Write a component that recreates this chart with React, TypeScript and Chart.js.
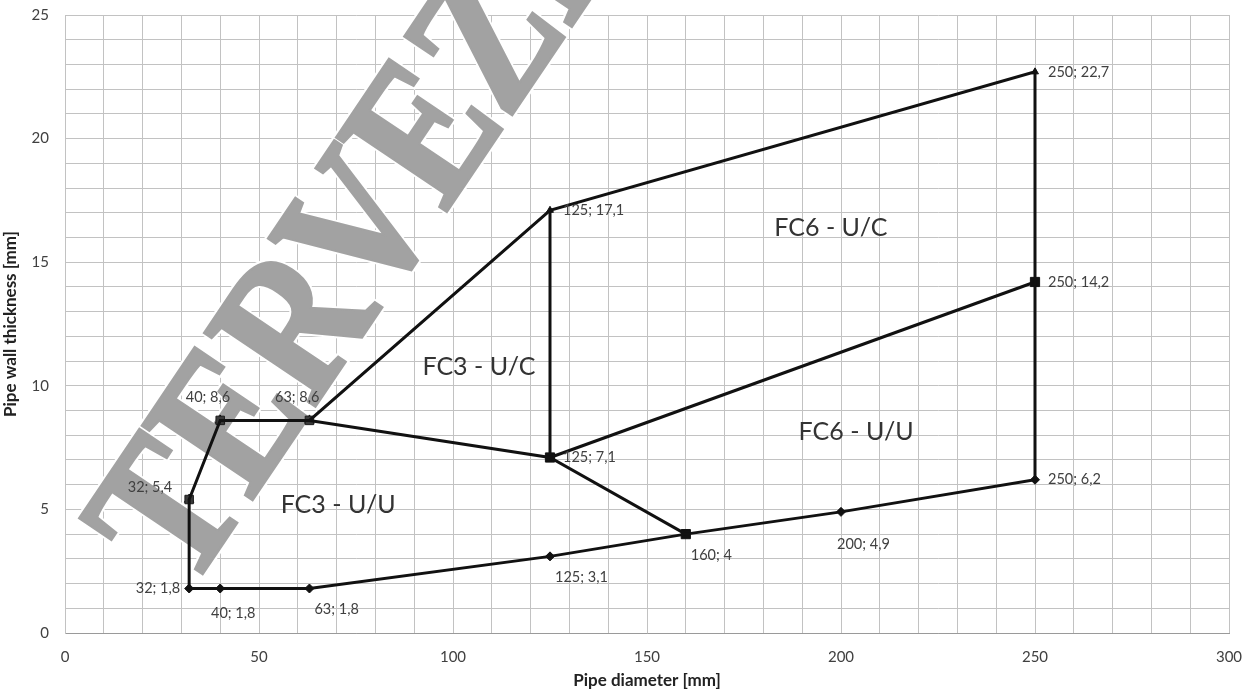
import React, { useEffect, useRef } from "react";
import { Chart, registerables } from "chart.js";

Chart.register(...registerables);

// Outer boundary of the regions (closed outline)
const outlineX = [32, 40, 63, 125, 160, 200, 250, 250, 250, 125, 63, 40, 32, 32];
const outlineY = [1.8, 1.8, 1.8, 3.1, 4, 4.9, 6.2, 14.2, 22.7, 17.1, 8.6, 8.6, 5.4, 1.8];

// Inner dividing lines
const innerAX = [63, 125, 160];
const innerAY = [8.6, 7.1, 4];
const innerBX = [125, 125];
const innerBY = [7.1, 17.1];
const innerCX = [125, 250];
const innerCY = [7.1, 14.2];

// Markers
const diamondX = [32, 40, 63, 125, 200, 250];
const diamondY = [1.8, 1.8, 1.8, 3.1, 4.9, 6.2];
const squareX = [125, 160, 250];
const squareY = [7.1, 4, 14.2];
const triangleX = [32, 40, 63];
const triangleY = [5.4, 8.6, 8.6];
const smallTriX = [125, 250];
const smallTriY = [17.1, 22.7];

// Point labels (x; y) and their placement
const labelX = [32, 40, 63, 125, 160, 200, 250, 250, 250, 125, 125, 63, 40, 32];
const labelY = [1.8, 1.8, 1.8, 3.1, 4, 4.9, 6.2, 14.2, 22.7, 17.1, 7.1, 8.6, 8.6, 5.4];
const labelPlace = ["left", "belowR", "belowR2", "belowR2", "belowR2", "below", "right", "right", "right", "right", "right", "aboveL", "aboveL", "leftAbove"];

// Region texts
const regionText = ["FC6 - U/C", "FC3 - U/C", "FC6 - U/U", "FC3 - U/U"];
const regionX = [197.4, 106.7, 203.9, 70.4];
const regionY = [16.4, 10.76, 8.13, 5.18];

const xTitle = "Pipe diameter [mm]";
const yTitle = "Pipe wall thickness [mm]";
const watermark = "TERVEZET";

const pts = (xs: number[], ys: number[]) => xs.map((x, i) => ({ x, y: ys[i] }));

const fmt = (v: number) => String(v).replace(".", ",");

const FONT = "Lato, 'Open Sans', sans-serif";

export default function App() {
  const ref = useRef<HTMLCanvasElement | null>(null);

  useEffect(() => {
    document.body.style.margin = "0";
    const canvas = ref.current;
    if (!canvas) return;

    const watermarkPlugin = {
      id: "watermark",
      beforeDatasetsDraw(chart: any) {
        const ctx = chart.ctx;
        ctx.save();
        ctx.translate(188, 594);
        ctx.rotate((-56 * Math.PI) / 180);
        ctx.scale(0.9, 1.08);
        ctx.font = "bold 186px 'Liberation Serif', 'DejaVu Serif', serif";
        ctx.textBaseline = "alphabetic";
        ctx.textAlign = "left";
        ctx.lineJoin = "miter";
        ctx.strokeStyle = "#ffffff";
        ctx.lineWidth = 8;
        ctx.strokeText(watermark, 0, 0);
        ctx.strokeStyle = "#a2a2a2";
        ctx.lineWidth = 4;
        ctx.strokeText(watermark, 0, 0);
        ctx.fillStyle = "#a2a2a2";
        ctx.fillText(watermark, 0, 0);
        ctx.restore();
      },
    };

    const labelsPlugin = {
      id: "pointLabels",
      afterDatasetsDraw(chart: any) {
        const ctx = chart.ctx;
        const xs = chart.scales.x;
        const ys = chart.scales.y;
        ctx.save();
        ctx.font = `14.5px ${FONT}`;
        ctx.fillStyle = "#404040";
        labelX.forEach((lx, i) => {
          const px = xs.getPixelForValue(lx);
          const py = ys.getPixelForValue(labelY[i]);
          const text = `${fmt(lx)}; ${fmt(labelY[i])}`;
          const place = labelPlace[i];
          let tx = px, ty = py;
          ctx.textBaseline = "middle";
          if (place === "left") { ctx.textAlign = "right"; tx = px - 9; }
          else if (place === "right") { ctx.textAlign = "left"; tx = px + 13; }
          else if (place === "belowR") { ctx.textAlign = "center"; tx = px + 13; ty = py + 25; }
          else if (place === "belowR2") { ctx.textAlign = "left"; tx = px + 5; ty = py + 21; }
          else if (place === "below") { ctx.textAlign = "left"; tx = px - 4; ty = py + 32; }
          else if (place === "aboveL") { ctx.textAlign = "right"; tx = px + 10; ty = py - 23; }
          else if (place === "leftAbove") { ctx.textAlign = "right"; tx = px - 17; ty = py - 12; }
          ctx.fillText(text, tx, ty);
        });
        ctx.font = `25px ${FONT}`;
        ctx.fillStyle = "#333333";
        ctx.textAlign = "center";
        ctx.textBaseline = "middle";
        regionText.forEach((t, i) => {
          ctx.fillText(t, xs.getPixelForValue(regionX[i]), ys.getPixelForValue(regionY[i]));
        });
        ctx.restore();
      },
    };

    const lineDs = (xs: number[], ys: number[]) => ({
      data: pts(xs, ys),
      showLine: true,
      borderColor: "#111111",
      borderWidth: 3,
      pointRadius: 0,
      fill: false,
    });
    const markerDs = (xs: number[], ys: number[], style: string, r: number, bg = "#111111", bc = "#111111") => ({
      data: pts(xs, ys),
      showLine: false,
      pointStyle: style,
      pointRadius: r,
      backgroundColor: bg,
      borderColor: bc,
      borderWidth: 1,
    });

    const chart = new Chart(canvas, {
      type: "scatter",
      data: {
        datasets: [
          lineDs(outlineX, outlineY),
          lineDs(innerAX, innerAY),
          lineDs(innerBX, innerBY),
          lineDs(innerCX, innerCY),
          markerDs(diamondX, diamondY, "rectRot", 4.5),
          markerDs(squareX, squareY, "rect", 6.5),
          markerDs(triangleX, triangleY, "rect", 6, "#3a3a3a", "#1c1c1c"),
          markerDs(triangleX, triangleY, "triangle", 5.5, "#0a0a0a", "#0a0a0a"),
          markerDs(smallTriX, smallTriY, "triangle", 4),
        ] as any,
      },
      options: {
        animation: false,
        responsive: false,
        maintainAspectRatio: false,
        layout: { padding: { left: 0, top: 15, right: 23, bottom: 0 } },
        plugins: {
          legend: { display: false },
          tooltip: { enabled: false },
        },
        scales: {
          x: {
            type: "linear",
            min: 0,
            max: 300,
            border: { color: "#9a9a9a", width: 1 },
            grid: { color: "#c2c2c2", lineWidth: 1, drawTicks: false },
            ticks: {
              stepSize: 10,
              autoSkip: false,
              maxRotation: 0,
              padding: 15,
              color: "#404040",
              font: { family: FONT, size: 15 },
              callback: (v: any) => (Number(v) % 50 === 0 ? String(v) : ""),
            },
            title: {
              display: true,
              text: xTitle,
              color: "#222222",
              font: { family: FONT, size: 17, weight: "bold" },
              padding: { top: 0, bottom: 0 },
            },
            afterFit: (s: any) => {
              s.height = 58;
              s.paddingLeft = 0;
              s.paddingRight = 0;
            },
          },
          y: {
            type: "linear",
            min: 0,
            max: 25,
            border: { color: "#c2c2c2", width: 1 },
            grid: { color: "#c2c2c2", lineWidth: 1, drawTicks: false },
            ticks: {
              stepSize: 1,
              autoSkip: false,
              padding: 16,
              color: "#404040",
              font: { family: FONT, size: 15 },
              callback: (v: any) => (Number(v) % 5 === 0 ? String(v) : ""),
            },
            title: {
              display: true,
              text: yTitle,
              color: "#222222",
              font: { family: FONT, size: 17, weight: "bold" },
              padding: { top: 0, bottom: 4 },
            },
            afterFit: (s: any) => {
              s.width = 65;
              s.paddingTop = 0;
              s.paddingBottom = 0;
            },
          },
        },
      } as any,
      plugins: [watermarkPlugin, labelsPlugin],
    });

    return () => chart.destroy();
  }, []);

  return (
    <div style={{ width: 1252, height: 691, background: "#ffffff" }}>
      <canvas ref={ref} width={1252} height={691} style={{ display: "block" }} />
    </div>
  );
}
